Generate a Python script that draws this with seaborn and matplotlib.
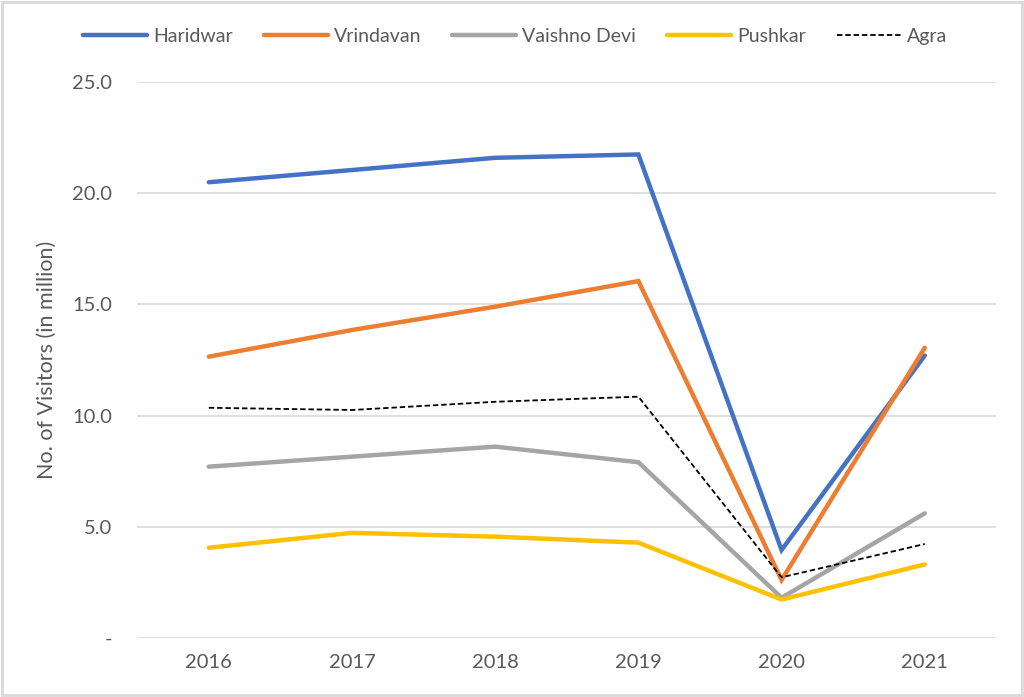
import pandas as pd
import seaborn as sns
import matplotlib.pyplot as plt
from matplotlib.patches import Rectangle

# Data
years = ["2016", "2017", "2018", "2019", "2020", "2021"]
haridwar = [20.5, 21.05, 21.6, 21.75, 3.95, 12.7]
vrindavan = [12.65, 13.85, 14.9, 16.05, 2.6, 13.05]
vaishno_devi = [7.7, 8.15, 8.6, 7.9, 1.8, 5.6]
pushkar = [4.05, 4.72, 4.55, 4.28, 1.72, 3.3]
agra = [10.35, 10.25, 10.62, 10.85, 2.72, 4.22]

series = {
    "Haridwar": haridwar,
    "Vrindavan": vrindavan,
    "Vaishno Devi": vaishno_devi,
    "Pushkar": pushkar,
    "Agra": agra,
}
colors = {"Haridwar": "#4472C4", "Vrindavan": "#ED7D31", "Vaishno Devi": "#A5A5A5",
          "Pushkar": "#FFC000", "Agra": "#000000"}

sns.set_style("white")
plt.rcParams['font.family'] = ['Lato', 'DejaVu Sans']

fig = plt.figure(figsize=(10.24, 6.97), dpi=100)
ax = fig.add_axes([0.134, 0.085, 0.839, 0.797])

xpos = list(range(len(years)))
for name, vals in series.items():
    df = pd.DataFrame({"x": xpos, "y": vals})
    if name == "Agra":
        sns.lineplot(data=df, x="x", y="y", ax=ax, color=colors[name], lw=1.3,
                     linestyle=(0, (3, 1.6)), label=name)
    else:
        sns.lineplot(data=df, x="x", y="y", ax=ax, color=colors[name], lw=3.2,
                     label=name, solid_capstyle="round", solid_joinstyle="miter")

ax.set_xlim(-0.5, 5.5)
ax.set_ylim(0, 25)
ax.set_xticks(xpos)
ax.set_xticklabels(years)
ax.set_yticks([0, 5, 10, 15, 20, 25])
ax.set_yticklabels(["-", "5.0", "10.0", "15.0", "20.0", "25.0"])
ax.grid(axis="y", color="#D9D9D9", lw=1.2)
ax.set_axisbelow(True)
for s in ax.spines.values():
    s.set_visible(False)
ax.tick_params(axis="both", colors="#595959", labelsize=14.5, length=0)
ax.tick_params(axis="x", pad=12)
ax.tick_params(axis="y", pad=18)
ax.set_xlabel("")
ax.set_ylabel("No. of Visitors (in million)", color="#595959", fontsize=15.5)
ax.yaxis.set_label_coords(-0.093, 0.5)

ax.legend(loc="center", bbox_to_anchor=(0.503, 0.948), bbox_transform=fig.transFigure,
          ncol=5, frameon=False, fontsize=14, labelcolor="#595959",
          handlelength=3.3, columnspacing=1.6, handletextpad=0.3)

fig.patches.append(Rectangle((0.002, 0.003), 0.996, 0.994, transform=fig.transFigure,
                             fill=False, edgecolor="#D9D9D9", lw=2))

fig.savefig("out.png", dpi=100)
